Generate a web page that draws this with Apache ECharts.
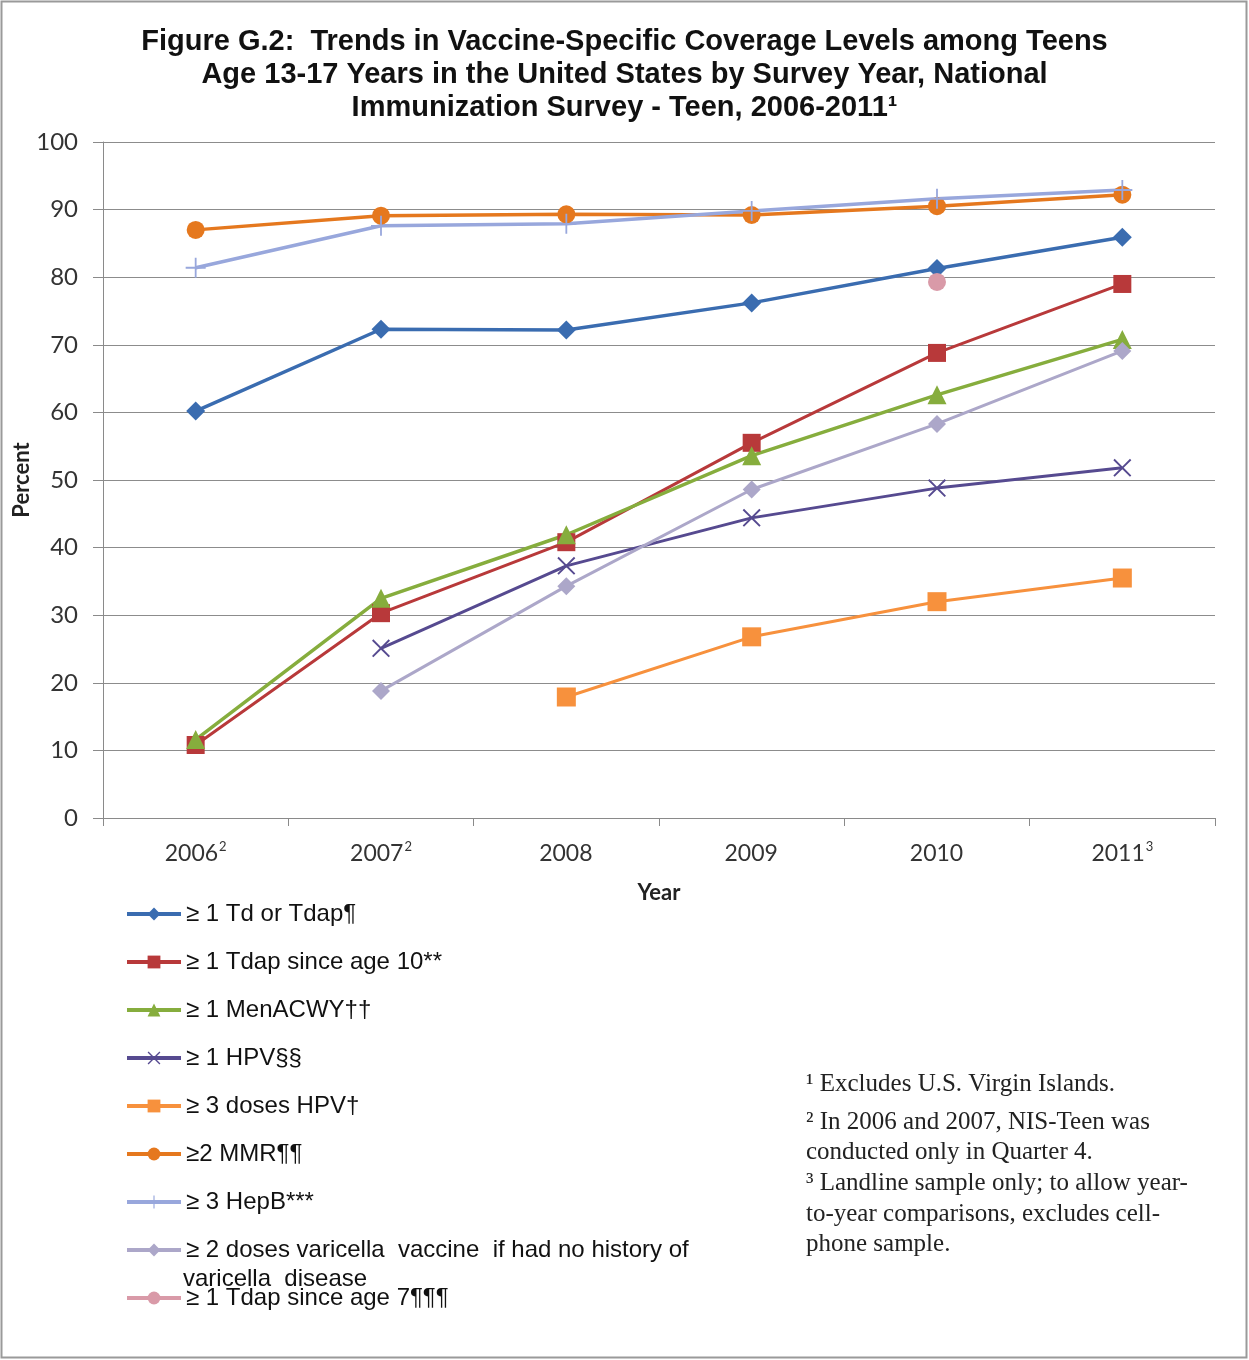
<!DOCTYPE html>
<html>
<head>
<meta charset="utf-8">
<script src="https://cdn.jsdelivr.net/npm/echarts@6/dist/echarts.min.js"></script>
<style>
  html, body { margin: 0; padding: 0; background: #fff; }
  #chart { width: 1249px; height: 1360px; }
</style>
</head>
<body>
<div id="chart"></div>
<script>
// survey years and the footnote mark shown after each one
const years = ['2006', '2007', '2008', '2009', '2010', '2011'];
const yearNotes = ['2', '2', '', '', '', '3'];

const tdOrTdap   = [60.2, 72.3, 72.2, 76.2, 81.3, 85.9];
const tdap10     = [10.8, 30.3, 40.8, 55.5, 68.8, 79.0];
const menacwy    = [11.6, 32.5, 41.9, 53.6, 62.6, 70.8];
const hpv1       = [null, 25.1, 37.3, 44.4, 48.8, 51.8];
const hpv3       = [null, null, 17.9, 26.8, 32.0, 35.5];
const mmr2       = [87.0, 89.1, 89.3, 89.2, 90.5, 92.2];
const hepb3      = [81.4, 87.6, 87.9, 89.8, 91.6, 92.9];
const varicella2 = [null, 18.8, 34.3, 48.6, 58.3, 69.1];
const tdap7      = [null, null, null, null, 79.3, null];

const yTicks = [0, 10, 20, 30, 40, 50, 60, 70, 80, 90, 100];

const xMark = 'path://M0,1.5 L1.5,0 L10,8.5 L18.5,0 L20,1.5 L11.5,10 L20,18.5 L18.5,20 L10,11.5 L1.5,20 L0,18.5 L8.5,10 Z';
const plusMark = 'path://M9.1,0 L10.9,0 L10.9,9.1 L20,9.1 L20,10.9 L10.9,10.9 L10.9,20 L9.1,20 L9.1,10.9 L0,10.9 L0,9.1 L9.1,9.1 Z';

const varicellaName = '≥ 2 doses varicella  vaccine  if had no history of varicella  disease';

function mkLine(name, data, color, symbol, size, width) {
  return {
    name: name,
    type: 'line',
    data: data,
    symbol: symbol,
    symbolSize: size,
    connectNulls: false,
    lineStyle: { color: color, width: width || 3 },
    itemStyle: { color: color },
    emphasis: { disabled: true },
    z: 2
  };
}

const chart = echarts.init(document.getElementById('chart'));

const option = {
  backgroundColor: '#ffffff',
  animation: false,
  title: {
    text: 'Figure G.2:  Trends in Vaccine-Specific Coverage Levels among Teens\nAge 13-17 Years in the United States by Survey Year, National\nImmunization Survey - Teen, 2006-2011¹',
    left: 'center',
    top: 25,
    padding: 0,
    textStyle: {
      fontFamily: 'Liberation Sans',
      fontWeight: 'bold',
      fontSize: 29,
      lineHeight: 33,
      color: '#111',
      align: 'center'
    }
  },
  grid: { left: 103, top: 142, width: 1112, height: 676, outerBoundsMode: 'none' },
  xAxis: {
    type: 'category',
    data: years,
    boundaryGap: true,
    name: 'Year',
    nameLocation: 'middle',
    nameGap: 64,
    nameTextStyle: { fontFamily: 'Lato', fontWeight: 'bold', fontSize: 22, color: '#222' },
    axisLine: { lineStyle: { color: '#8a8a8a', width: 1 } },
    axisTick: { show: true, length: 8, alignWithLabel: false, lineStyle: { color: '#8a8a8a' } },
    axisLabel: {
      margin: 22,
      formatter: function (v, i) { return v + '{s|' + yearNotes[i] + '}'; },
      fontFamily: 'Lato',
      fontSize: 23,
      color: '#333',
      rich: { s: { fontFamily: 'Lato', fontSize: 13, color: '#333', verticalAlign: 'top', padding: [0, 0, 14, 1] } }
    }
  },
  yAxis: {
    type: 'value',
    min: 0,
    max: 100,
    interval: 10,
    name: 'Percent',
    nameLocation: 'middle',
    nameRotate: 90,
    nameGap: 70,
    nameMoveOverlap: false,
    nameTextStyle: { fontFamily: 'Lato', fontWeight: 'bold', fontSize: 22, color: '#222' },
    axisLine: { show: true, lineStyle: { color: '#8a8a8a', width: 1 } },
    axisTick: { show: true, length: 10, lineStyle: { color: '#8a8a8a' } },
    axisLabel: {
      margin: 25,
      fontFamily: 'Lato',
      fontSize: 24,
      color: '#333',
      formatter: function (v) { return yTicks.indexOf(v) >= 0 ? String(v) : ''; }
    },
    splitLine: { lineStyle: { color: '#8c8c8c', width: 1 } }
  },
  legend: {
    orient: 'vertical',
    left: 125,
    top: 902,
    padding: 0,
    itemWidth: 54,
    itemHeight: 16,
    itemGap: 24,
    selectedMode: false,
    lineStyle: { width: 4 },
    textStyle: { fontFamily: 'Liberation Sans', fontSize: 24, color: '#111', lineHeight: 24 },
    formatter: function (name) {
      return name === varicellaName ? '≥ 2 doses varicella  vaccine  if had no history of' : name;
    },
    data: ['≥ 1 Td or Tdap¶', '≥ 1 Tdap since age 10**', '≥ 1 MenACWY††', '≥ 1 HPV§§',
      '≥ 3 doses HPV†', '≥2 MMR¶¶', '≥ 3 HepB***', varicellaName, '≥ 1 Tdap since age 7¶¶¶']
  },
  graphic: [
    {
      type: 'rect',
      shape: { x: 1.5, y: 1.5, width: 1245, height: 1356 },
      style: { fill: null, stroke: '#9a9a9a', lineWidth: 2 },
      silent: true
    },
    {
      type: 'text',
      left: 183,
      top: 1267,
      style: { text: 'varicella  disease', font: '24px "Liberation Sans"', fill: '#111' }
    },
    {
      type: 'group',
      left: 806,
      top: 1072,
      children: [
        { type: 'text', x: 0, y: 0, style: { text: '¹ Excludes U.S. Virgin Islands.', font: '25px "Liberation Serif"', fill: '#222' } },
        { type: 'text', x: 0, y: 38, style: { text: '² In 2006 and 2007, NIS-Teen was', font: '25px "Liberation Serif"', fill: '#222' } },
        { type: 'text', x: 0, y: 68, style: { text: 'conducted only in Quarter 4.', font: '25px "Liberation Serif"', fill: '#222' } },
        { type: 'text', x: 0, y: 99, style: { text: '³ Landline sample only; to allow year-', font: '25px "Liberation Serif"', fill: '#222' } },
        { type: 'text', x: 0, y: 130, style: { text: 'to-year comparisons, excludes cell-', font: '25px "Liberation Serif"', fill: '#222' } },
        { type: 'text', x: 0, y: 160, style: { text: 'phone sample.', font: '25px "Liberation Serif"', fill: '#222' } }
      ]
    }
  ],
  series: [
    mkLine('≥ 1 Td or Tdap¶', tdOrTdap, '#3a6cb0', 'diamond', 19, 3.5),
    mkLine('≥ 1 Tdap since age 10**', tdap10, '#b8393a', 'rect', 18, 3),
    mkLine('≥ 1 MenACWY††', menacwy, '#86ad3d', 'triangle', 19, 3.5),
    mkLine('≥ 1 HPV§§', hpv1, '#564a90', xMark, 18, 3),
    mkLine('≥ 3 doses HPV†', hpv3, '#f7913d', 'rect', 19, 3),
    mkLine('≥2 MMR¶¶', mmr2, '#e5781e', 'circle', 18, 3.5),
    mkLine('≥ 3 HepB***', hepb3, '#98a7dc', plusMark, 20, 3.5),
    mkLine(varicellaName, varicella2, '#aca7c9', 'diamond', 18, 3),
    mkLine('≥ 1 Tdap since age 7¶¶¶', tdap7, '#d99aa8', 'circle', 18, 3)
  ]
};

chart.setOption(option);
</script>
</body>
</html>
